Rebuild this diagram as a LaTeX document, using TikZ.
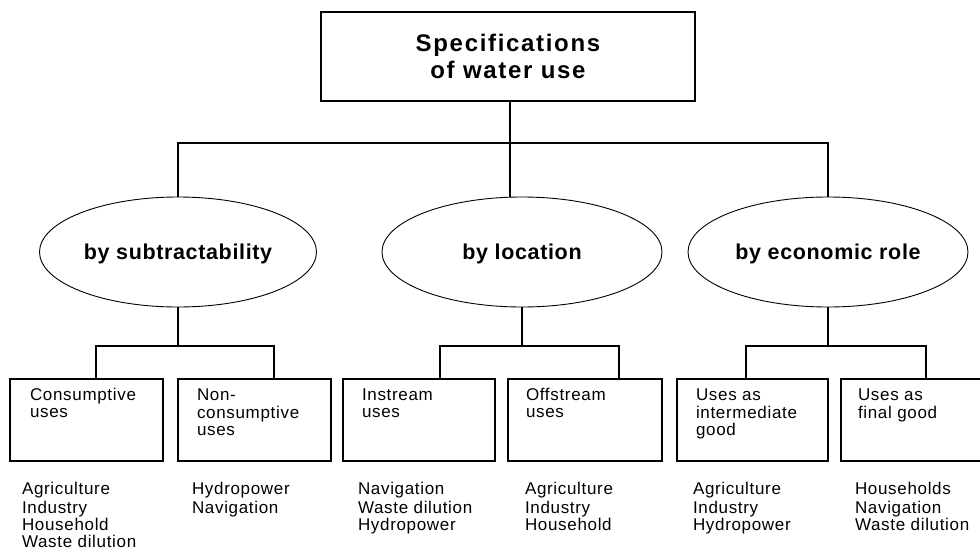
\documentclass[tikz,border=0pt]{standalone}
\usepackage{fontspec}
\setmainfont{Liberation Sans}
\newfontfamily\itemfont[LetterSpace=4]{Liberation Sans}
\newfontfamily\headfont[LetterSpace=7]{Liberation Sans}
\newfontfamily\ovalfont[LetterSpace=3]{Liberation Sans}
\usetikzlibrary{shapes.geometric}

\begin{document}
\begin{tikzpicture}[x=1pt,y=-1pt,
  conn/.style={line width=1.4pt},
  topbox/.style={draw, line width=1.4pt, minimum width=374pt, minimum height=89pt,
    inner sep=0pt, outer sep=0pt, align=center,
    font=\headfont\bfseries\fontsize{24}{27}\selectfont},
  oval/.style={draw, ellipse, line width=0.9pt, minimum height=110pt,
    inner sep=0pt, outer sep=0pt, text height=15.4pt, text depth=0pt,
    font=\ovalfont\bfseries\fontsize{21.5}{24}\selectfont},
  leaf/.style={draw, line width=1.4pt, anchor=north west, minimum height=82pt,
    inner sep=0pt, outer sep=0pt},
  leaftext/.style={anchor=north west, inner sep=0pt, outer sep=0pt, align=left,
    font=\itemfont\fontsize{17}{17}\selectfont},
]
\useasboundingbox (0,0) rectangle (980,549);

% root
\node[topbox] (root) at (508,56.5) {Specifications\\of water use};

% three classification criteria
\node[oval, minimum width=277pt] (sub) at (178,252) {by subtractability};
\node[oval, minimum width=280pt] (loc) at (522,252) {by location};
\node[oval, minimum width=280pt] (eco) at (828,252) {by economic role};

% use categories
\node[leaf, minimum width=153pt] (b1) at (10,379) {};
\node[leaf, minimum width=153pt] (b2) at (178,379) {};
\node[leaf, minimum width=152pt] (b3) at (343,379) {};
\node[leaf, minimum width=154pt] (b4) at (508,379) {};
\node[leaf, minimum width=151pt] (b5) at (677,379) {};
\node[leaf, minimum width=154pt] (b6) at (841,379) {};

\node[leaftext] (t1) at (30,388.6)  {\strut Consumptive\\uses};
\node[leaftext] (t2) at (197,388.6) {\strut Non-\\consumptive\\uses};
\node[leaftext] (t3) at (362,388.6) {\strut Instream\\uses};
\node[leaftext] (t4) at (526,388.6) {\strut Offstream\\uses};
\node[leaftext] (t5) at (696,388.6) {\strut Uses as\\intermediate\\good};
\node[leaftext] (t6) at (858,388.6) {\strut Uses as\\final good};

% examples
\node[leaftext] (l1) at (22,482.6)  {\strut Agriculture\\Industry\\Household\\Waste dilution};
\node[leaftext] (l2) at (192,482.6) {\strut Hydropower\\Navigation};
\node[leaftext] (l3) at (358,482.6) {\strut Navigation\\Waste dilution\\Hydropower};
\node[leaftext] (l4) at (525,482.6) {\strut Agriculture\\Industry\\Household};
\node[leaftext] (l5) at (693,482.6) {\strut Agriculture\\Industry\\Hydropower};
\node[leaftext] (l6) at (855,482.6) {\strut Households\\Navigation\\Waste dilution};

% junctions
\coordinate (hub) at (510,143);
\coordinate (j1a) at (96,346);  \coordinate (j1b) at (274,346);
\coordinate (j2a) at (440,346); \coordinate (j2b) at (619,346);
\coordinate (j3a) at (746,346); \coordinate (j3b) at (926,346);

% root to criteria
\draw[conn] (hub |- root.south) -- (hub) -- (hub |- loc.north);
\draw[conn] (sub.north) -- (sub.north |- hub) -- (eco.north |- hub) -- (eco.north);

% criteria to categories
\draw[conn] (sub.south) -- (sub.south |- j1a);
\draw[conn] (j1a |- b1.north) -- (j1a) -- (j1b) -- (j1b |- b2.north);
\draw[conn] (loc.south) -- (loc.south |- j2a);
\draw[conn] (j2a |- b3.north) -- (j2a) -- (j2b) -- (j2b |- b4.north);
\draw[conn] (eco.south) -- (eco.south |- j3a);
\draw[conn] (j3a |- b5.north) -- (j3a) -- (j3b) -- (j3b |- b6.north);
\end{tikzpicture}
\end{document}
